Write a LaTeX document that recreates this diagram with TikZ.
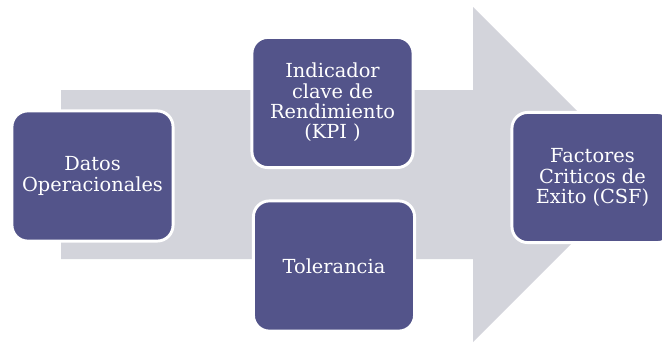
\documentclass[tikz,border=0pt]{standalone}
\usepackage{fontspec}
\setmainfont{DejaVu Serif}
\usepackage{tikz}
\usetikzlibrary{calc, math}
\usetikzlibrary{positioning}
\definecolor{stagecolor}{RGB}{83,84,138}
\definecolor{arrowcolor}{RGB}{211,212,219}

\begin{document}
\begin{tikzpicture}[x=0.0265cm, y=0.0265cm,
  stage/.style={draw=white, line width=2.2pt, fill=stagecolor, rounded corners=0.42cm,
    minimum width=4.27cm, minimum height=3.45cm, align=center, text=white,
    font=\fontsize{14.6}{15.3}\selectfont}]
  \tikzmath{
    \xmin=0;
    \xmax=662;
    \ymin=0;
    \ymax=343;
    \ymid=168.5;
    \shaftx=61;
    \headx=473;
    \shaftbot=84;
    \shafttop=253;
    \headbot=1;
    \headtop=336;
    \tipx=\headx + \headtop - \ymid;
  }
  \clip (\xmin, \ymin) rectangle (\xmax, \ymax);

  % Big arrow behind the stages
  \fill[arrowcolor] (\shaftx, \shaftbot) -- (\headx, \shaftbot) -- (\headx, \headbot) -- (\tipx, \ymid)
    -- (\headx, \headtop) -- (\headx, \shafttop) -- (\shaftx, \shafttop) -- cycle;

  \node[stage] (datos) at (92.5, 167) {Datos\\Operacionales};
  \node[stage] (kpi) at (332.5, 240.5) {Indicador\\clave de\\Rendimiento\\(KPI )};
  \node[stage] (tolerancia) at (334, 77) {Tolerancia};
  \node[stage] (csf) at (592.5, 165.5) {Factores\\Criticos de\\Exito (CSF)};
\end{tikzpicture}
\end{document}
